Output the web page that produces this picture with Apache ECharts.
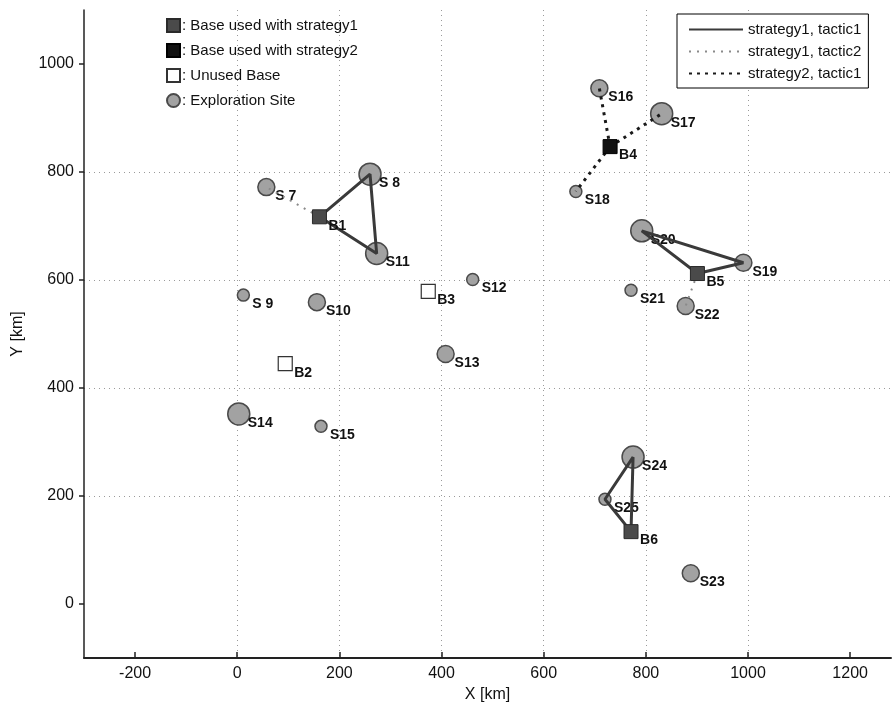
<!DOCTYPE html>
<html>
<head>
<meta charset="utf-8">
<script src="https://cdn.jsdelivr.net/npm/echarts@6/dist/echarts.min.js"></script>
<style>
  html, body { margin: 0; padding: 0; background: #fff; }
  #chart { width: 894px; height: 708px; }
</style>
</head>
<body>
<div id="chart"></div>
<script>
// exploration sites (km), value class 1..3 gives the marker size
const siteNames = ['S 7', 'S 8', 'S 9', 'S10', 'S11', 'S12', 'S13', 'S14', 'S15', 'S16',
                   'S17', 'S18', 'S19', 'S20', 'S21', 'S22', 'S23', 'S24', 'S25'];
const siteX = [57, 260, 12, 156, 273, 461, 408, 3, 164, 709, 831, 663, 991, 792, 771, 878, 888, 775, 720];
const siteY = [772, 796, 572, 559, 649, 601, 463, 352, 329, 955, 908, 764, 632, 691, 581, 552, 57, 272, 194];
const siteValue = [2, 3, 1, 2, 3, 1, 2, 3, 1, 2, 3, 1, 2, 3, 1, 2, 2, 3, 1];

// bases
const baseNames = ['B1', 'B2', 'B3', 'B4', 'B5', 'B6'];
const baseX = [161, 94, 374, 730, 901, 771];
const baseY = [717, 445, 579, 847, 612, 134];
const baseUse = ['strategy1', 'unused', 'unused', 'strategy2', 'strategy1', 'strategy1'];

// routes: tactic name + list of visited nodes
const routeTactic = ['strategy1, tactic1', 'strategy1, tactic1', 'strategy1, tactic1',
                     'strategy1, tactic2', 'strategy1, tactic2',
                     'strategy2, tactic1', 'strategy2, tactic1', 'strategy2, tactic1'];
const routePath = [
  ['B1', 'S 8', 'S11', 'B1'],
  ['B5', 'S20', 'S19', 'B5'],
  ['B6', 'S25', 'S24', 'B6'],
  ['B1', 'S 7'],
  ['B5', 'S22'],
  ['B4', 'S16'],
  ['B4', 'S17'],
  ['B4', 'S18']
];

const xTicks = [-200, 0, 200, 400, 600, 800, 1000, 1200];
const yTicks = [0, 200, 400, 600, 800, 1000];

const baseSeriesNames = {
  strategy1: 'Base used with strategy1',
  strategy2: 'Base used with strategy2',
  unused: 'Unused Base'
};
const siteSeriesName = 'Exploration Site';

// lookup for route coordinates
const nodePos = {};
siteNames.forEach((n, i) => { nodePos[n] = [siteX[i], siteY[i]]; });
baseNames.forEach((n, i) => { nodePos[n] = [baseX[i], baseY[i]]; });

const sizeByValue = { 1: 12, 2: 17, 3: 22 };
const font = '"Liberation Sans", Arial, Helvetica, sans-serif';

const markLabel = {
  show: true,
  position: 'inside',
  align: 'left',
  verticalAlign: 'middle',
  offset: [9, 9],
  formatter: '{b}',
  color: '#111',
  fontFamily: font,
  fontWeight: 'bold',
  fontSize: 14
};

const lineStyles = {
  'strategy1, tactic1': { color: '#3a3a3a', width: 3, type: 'solid' },
  'strategy1, tactic2': { color: '#8a8a8a', width: 2, type: [2, 6] },
  'strategy2, tactic1': { color: '#1a1a1a', width: 3, type: [3, 5] }
};

const baseStyles = {
  strategy1: { color: '#4a4a4a', borderColor: '#2a2a2a', borderWidth: 1 },
  strategy2: { color: '#111111', borderColor: '#000', borderWidth: 1 },
  unused: { color: '#ffffff', borderColor: '#333', borderWidth: 1.2 }
};

const series = [];

series.push({
  name: siteSeriesName,
  type: 'scatter',
  z: 2,
  symbol: 'circle',
  symbolSize: (val) => sizeByValue[val[2]],
  itemStyle: { color: '#a2a2a2', borderColor: '#4a4a4a', borderWidth: 1.5, opacity: 1 },
  label: markLabel,
  data: siteNames.map((n, i) => ({ name: n, value: [siteX[i], siteY[i], siteValue[i]] }))
});

routePath.forEach((path, i) => {
  series.push({
    name: routeTactic[i],
    type: 'line',
    z: 3,
    symbol: 'none',
    silent: true,
    lineStyle: lineStyles[routeTactic[i]],
    itemStyle: { color: lineStyles[routeTactic[i]].color },
    data: path.map(n => nodePos[n])
  });
});

['strategy1', 'strategy2', 'unused'].forEach(use => {
  series.push({
    name: baseSeriesNames[use],
    type: 'scatter',
    z: 4,
    symbol: 'rect',
    symbolSize: 14,
    itemStyle: Object.assign({ opacity: 1 }, baseStyles[use]),
    label: markLabel,
    data: baseNames.map((n, i) => ({ name: n, value: [baseX[i], baseY[i]], use: baseUse[i] }))
      .filter(d => d.use === use)
  });
});

const chart = echarts.init(document.getElementById('chart'), null, { renderer: 'canvas' });

const splitLine = { show: true, showMinLine: false, showMaxLine: false,
  lineStyle: { color: '#9a9a9a', width: 1, type: [1, 4] } };

const plainNumber = (v) => String(v);

chart.setOption({
  animation: false,
  backgroundColor: '#fff',
  textStyle: { fontFamily: font },
  grid: { left: 84, right: 3, top: 10, bottom: 50, outerBoundsMode: 'none', containLabel: false },
  legend: [
    {
      data: [baseSeriesNames.strategy1, baseSeriesNames.strategy2, baseSeriesNames.unused, siteSeriesName],
      orient: 'vertical',
      left: 166,
      top: 18,
      padding: 0,
      itemGap: 10,
      itemWidth: 13,
      itemHeight: 13,
      selectedMode: false,
      formatter: ': {name}',
      textStyle: { fontFamily: font, fontSize: 15, color: '#111', padding: [0, 0, 0, -3] }
    },
    {
      data: ['strategy1, tactic1', 'strategy1, tactic2', 'strategy2, tactic1'],
      orient: 'vertical',
      left: 677,
      top: 14,
      padding: [8, 7, 7, 11],
      itemGap: 7,
      itemWidth: 54,
      itemHeight: 14,
      selectedMode: false,
      backgroundColor: '#fff',
      borderColor: '#000',
      borderWidth: 1,
      itemStyle: { opacity: 0 },
      textStyle: { fontFamily: font, fontSize: 15, color: '#111' }
    }
  ],
  xAxis: {
    type: 'value',
    min: -300,
    max: 1280,
    splitNumber: 8,
    name: 'X [km]',
    nameLocation: 'middle',
    nameGap: 25,
    nameTextStyle: { fontFamily: font, fontSize: 16, color: '#111' },
    axisLine: { show: true, onZero: false, lineStyle: { color: '#222', width: 2 } },
    axisTick: { show: true, inside: true, length: 6, customValues: xTicks, lineStyle: { color: '#222', width: 1.5 } },
    axisLabel: { customValues: xTicks, margin: 8, formatter: plainNumber,
      fontFamily: font, fontSize: 16, color: '#111' },
    splitLine: splitLine
  },
  yAxis: {
    type: 'value',
    min: -100,
    max: 1100,
    splitNumber: 6,
    name: 'Y [km]',
    nameLocation: 'middle',
    nameRotate: 90,
    nameGap: 58,
    nameTextStyle: { fontFamily: font, fontSize: 16, color: '#111' },
    axisLine: { show: true, onZero: false, lineStyle: { color: '#222', width: 1.5 } },
    axisTick: { show: true, inside: false, length: 5, customValues: yTicks, lineStyle: { color: '#222', width: 1.5 } },
    axisLabel: { customValues: yTicks, margin: 10, formatter: plainNumber,
      fontFamily: font, fontSize: 16, color: '#111' },
    splitLine: splitLine
  },
  series: series
});

window.addEventListener('resize', () => {
  chart.resize();
});
</script>
</body>
</html>
